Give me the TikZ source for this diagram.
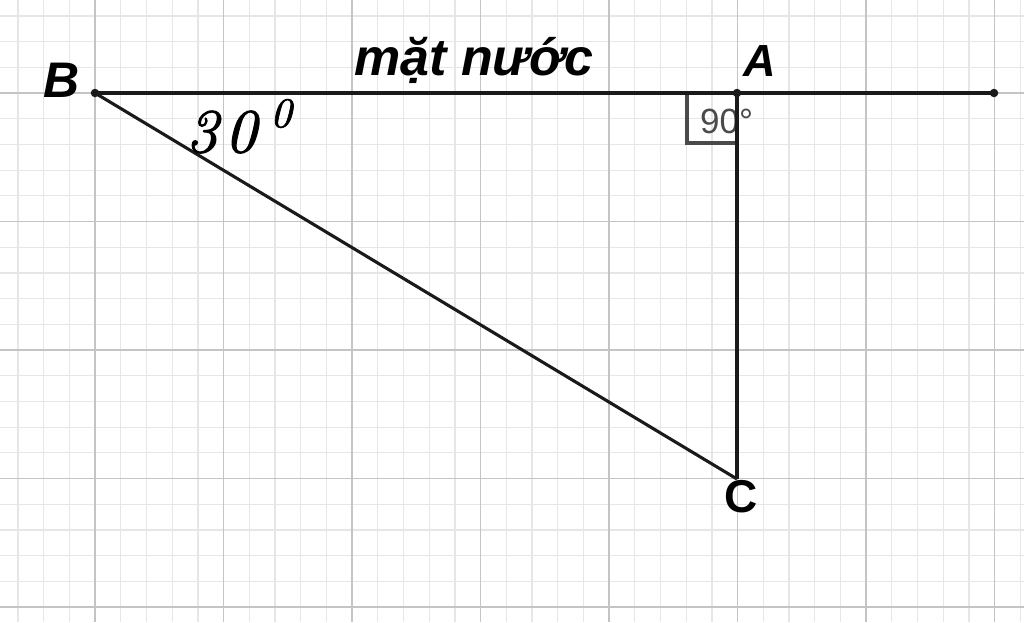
\documentclass[tikz,border=0pt]{standalone}
\usepackage{fontspec}
\newfontfamily\labfont{Liberation Sans}
\newfontfamily\angfont[FakeBold=1.6]{lmroman10-italic.otf}
\definecolor{minorc}{HTML}{E6E6E6}
\definecolor{majorc}{HTML}{C4C4C4}
\definecolor{linec}{HTML}{1A1A1A}
\definecolor{boxc}{HTML}{4A4A4A}
\tikzset{
  seg/.style={draw=linec, line width=3.1pt},
  ptlabel/.style={text=black, inner sep=0pt},
  dot/.style={circle, fill=linec, inner sep=0pt, minimum size=8.5pt},
}
\begin{document}
\begin{tikzpicture}[x=1pt,y=-1pt]
\useasboundingbox (0,0) rectangle (1024,622);
\fill[white] (0,0) rectangle (1024,622);
% minor grid
\foreach \k in {-3,...,36} {
  \draw[minorc, line width=1.2pt] ({95.1+25.7*\k},0) -- ({95.1+25.7*\k},622);
}
\foreach \k in {-3,...,21} {
  \draw[minorc, line width=1.2pt] (0,{93+25.7*\k}) -- (1024,{93+25.7*\k});
}
% major grid
\foreach \k in {0,...,7} {
  \draw[majorc, line width=1.6pt] ({95.1+128.5*\k},0) -- ({95.1+128.5*\k},622);
}
\foreach \k in {0,...,4} {
  \draw[majorc, line width=1.6pt] (0,{93+128.5*\k}) -- (1024,{93+128.5*\k});
}
% points
\coordinate (B) at (95,93);
\coordinate (A) at (737,93);
\coordinate (C) at (737,479);
\coordinate (E) at (994,93);
% right angle box
\draw[boxc, line width=3.2pt] (A) -- ++(-50,0) -- ++(0,50) -- ++(50,0);
\node[anchor=base west, inner sep=0pt, text=boxc, font=\labfont\fontsize{35}{35}\selectfont] (ninety) at (700,133) {90°};
% segments
\draw[seg] (B) -- (E);
\draw[seg] (A) -- (C);
\draw[seg] (B) -- (C);
\node[dot] (dB) at (B) {};
\node[dot] (dA) at (A) {};
\node[dot] (dE) at (E) {};
% labels
\node[ptlabel, font=\labfont\bfseries\itshape\fontsize{50}{50}\selectfont] (lB) at (62,80) {B};
\node[ptlabel, font=\labfont\bfseries\itshape\fontsize{45}{45}\selectfont] (lA) at (760,61) {A};
\node[ptlabel, font=\labfont\bfseries\fontsize{46}{46}\selectfont] (lC) at (741,497) {C};
\node[anchor=base west, inner sep=0pt, font=\labfont\bfseries\itshape\fontsize{52}{52}\selectfont] (water) at (354,75) {mặt nước};
\node[anchor=base west, inner sep=0pt, font=\angfont\fontsize{62}{62}\selectfont] (ang) at (186,152) {3\kern7pt0};
\node[anchor=base west, inner sep=0pt, font=\angfont\fontsize{42}{42}\selectfont] (angsup) at (270,127) {0};
\end{tikzpicture}
\end{document}
